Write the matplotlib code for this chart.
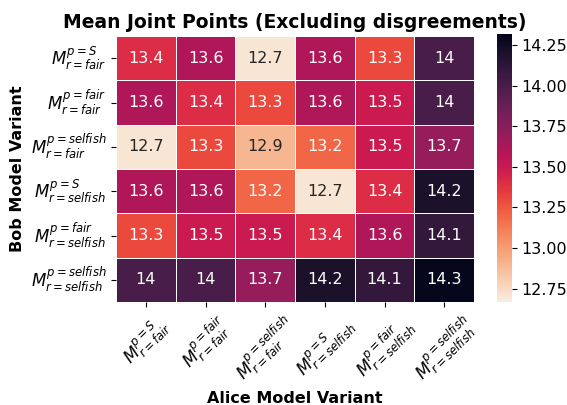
import matplotlib
matplotlib.use("Agg")
import matplotlib.pyplot as plt
import numpy as np
import seaborn as sns

labels = [
    r"$M^{p=S}_{r=fair}$",
    r"$M^{p=fair}_{r=fair}$",
    r"$M^{p=selfish}_{r=fair}$",
    r"$M^{p=S}_{r=selfish}$",
    r"$M^{p=fair}_{r=selfish}$",
    r"$M^{p=selfish}_{r=selfish}$",
]

# rows: Bob variant, cols: Alice variant
row_fair_s = [13.4, 13.6, 12.7, 13.6, 13.3, 14.0]
row_fair_fair = [13.6, 13.4, 13.3, 13.6, 13.5, 14.0]
row_fair_selfish = [12.7, 13.3, 12.9, 13.2, 13.5, 13.7]
row_selfish_s = [13.6, 13.6, 13.2, 12.7, 13.4, 14.2]
row_selfish_fair = [13.3, 13.5, 13.5, 13.4, 13.6, 14.1]
row_selfish_selfish = [14.0, 14.0, 13.7, 14.2, 14.1, 14.3]

data = np.array([row_fair_s, row_fair_fair, row_fair_selfish,
                 row_selfish_s, row_selfish_fair, row_selfish_selfish])

fig = plt.figure(figsize=(5.67, 4.05), dpi=100)
ax = fig.add_axes([0.2046, 0.2543, 0.6314, 0.6568])
cax = fig.add_axes([0.8765, 0.2555, 0.0265, 0.6617])
sns.heatmap(data, annot=True, fmt="g", cmap="rocket_r", linewidths=0.5,
            linecolor="white", xticklabels=labels, yticklabels=labels,
            vmin=12.67, vmax=14.32,
            annot_kws={"fontsize": 11.5}, ax=ax, cbar_ax=cax)
ax.set_title("Mean Joint Points (Excluding disgreements)", fontsize=13.5,
             fontweight="bold")
ax.set_xlabel("Alice Model Variant", fontsize=11.5, fontweight="bold")
ax.set_ylabel("Bob Model Variant", fontsize=11.5, fontweight="bold")
plt.setp(ax.get_xticklabels(), rotation=45, fontsize=12)
plt.setp(ax.get_yticklabels(), rotation=0, fontsize=12)
cax.tick_params(labelsize=11.5)

fig.savefig("out.png", dpi=100)
